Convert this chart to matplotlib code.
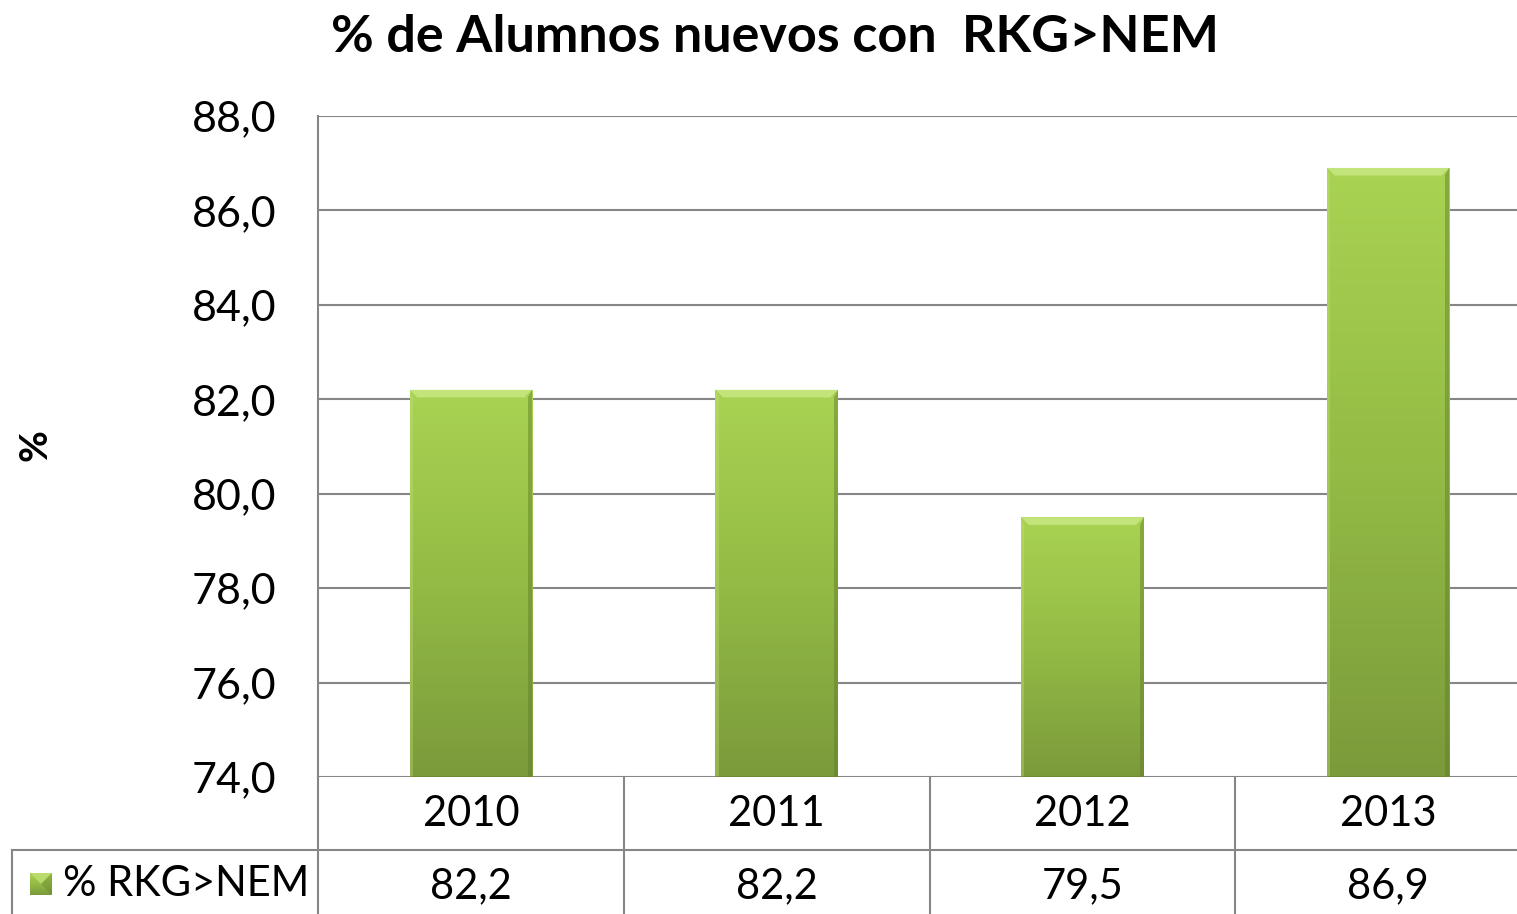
import matplotlib
matplotlib.use("Agg")
import matplotlib.pyplot as plt
import numpy as np
from matplotlib.colors import LinearSegmentedColormap
from matplotlib.patches import Polygon
import matplotlib.transforms as mtransforms

categories = ["2010", "2011", "2012", "2013"]
values = [82.2, 82.2, 79.5, 86.9]
series_name = "% RKG>NEM"
title = "% de Alumnos nuevos con  RKG>NEM"
ylabel = "%"
yticks = [74, 76, 78, 80, 82, 84, 86, 88]

plt.rcParams['font.family'] = ['Lato', 'DejaVu Sans']

W, H = 1517, 914
fig = plt.figure(figsize=(W / 100, H / 100), dpi=100)
ax_left, ax_right, ax_top, ax_bot = 318, 1541, 116, 777
ax = fig.add_axes([ax_left / W, 1 - ax_bot / H, (ax_right - ax_left) / W, (ax_bot - ax_top) / H])
ax.set_xlim(-0.5, len(categories) - 0.5)
ax.set_ylim(74, 88)
ax.set_yticks(yticks)
ax.set_yticklabels([f"{v:.1f}".replace(".", ",") for v in yticks], fontsize=31)
ax.tick_params(axis='y', length=0, pad=30)
ax.set_xticks([])
grid_c = "#868686"
for s in ["top", "right", "bottom"]:
    ax.spines[s].set_visible(False)
ax.spines["left"].set_color(grid_c)
ax.spines["left"].set_linewidth(1.5)
ax.yaxis.grid(True, color=grid_c, linewidth=1.5)
ax.set_axisbelow(True)

cmap = LinearSegmentedColormap.from_list("g", ["#7b9a3b", "#93bb45", "#a9d352"])
grad = np.linspace(0, 1, 256).reshape(-1, 1)
bw = 0.4
x = np.arange(len(categories))
bars = ax.bar(x, [v - 74 for v in values], bottom=74, width=bw, color="none", edgecolor="none", zorder=3)
for b, v in zip(bars, values):
    x0, x1 = b.get_x(), b.get_x() + b.get_width()
    im = ax.imshow(grad, extent=[x0, x1, 74, v], origin="lower", cmap=cmap,
                   aspect="auto", zorder=3, interpolation="bicubic")
    im.set_clip_path(b)
    dx = 0.025
    dy = 0.16
    ax.add_patch(Polygon([[x0, v], [x1, v], [x1 - dx, v - dy], [x0 + dx, v - dy]],
                         closed=True, facecolor="#c9e783", edgecolor="none", alpha=0.85, zorder=4))
    ax.add_patch(Polygon([[x1, v], [x1, 74], [x1 - dx * 0.5, 74], [x1 - dx * 0.5, v - dy]],
                         closed=True, facecolor="#5f7a2a", edgecolor="none", alpha=0.45, zorder=4))
    ax.add_patch(Polygon([[x0, v], [x0, 74], [x0 + dx * 0.4, 74], [x0 + dx * 0.4, v - dy]],
                         closed=True, facecolor="#c4e27a", edgecolor="none", alpha=0.35, zorder=4))
    ax.plot([x0, x1], [74, 74], color="#6d8a33", lw=2, zorder=5, solid_capstyle="butt")

ax.set_ylim(74, 88)
ax.set_xlim(-0.5, len(categories) - 0.5)

# Title and y label
fig.text(775 / W, 1 - 38 / H, title, fontsize=37.5, fontweight="bold", ha="center", va="center")
fig.text(35 / W, 1 - 445 / H, ylabel, fontsize=28, fontweight="bold", rotation=90, ha="center", va="center")

# Data table
row_h = 73 / (ax_bot - ax_top)
blend = mtransforms.blended_transform_factory(ax.transData, ax.transAxes)
lkw = dict(color=grid_c, lw=1.5, clip_on=False, transform=blend)
ax.plot([-0.5, len(categories) - 0.5], [-row_h, -row_h], **lkw)
fig.add_artist(plt.Line2D([12 / W, ax_left / W], [1 - 850 / H, 1 - 850 / H], color=grid_c, lw=1.5))
fig.add_artist(plt.Line2D([12 / W, 12 / W], [1 - 850 / H, 0], color=grid_c, lw=1.5))
for i in range(len(categories)):
    ax.plot([i - 0.5, i - 0.5], [0, -2 * row_h], **lkw)
for i, (c, v) in enumerate(zip(categories, values)):
    ax.text(i, -0.5 * row_h, c, transform=blend, ha="center", va="center", fontsize=30)
    ax.text(i, -1.5 * row_h, f"{v:.1f}".replace(".", ","), transform=blend, ha="center", va="center", fontsize=30)

# legend key + series name
kax = fig.add_axes([30 / W, 1 - 895 / H, 22 / W, 22 / H])
kax.imshow(grad, extent=[0, 1, 0, 1], origin="lower", cmap=cmap, aspect="auto")
kax.add_patch(Polygon([[0, 1], [1, 1], [0.5, 0.5]], facecolor="#c4e27a", alpha=0.7, edgecolor="none"))
kax.add_patch(Polygon([[1, 1], [1, 0], [0.5, 0.5]], facecolor="#5f7a2a", alpha=0.35, edgecolor="none"))
kax.set_xlim(0, 1); kax.set_ylim(0, 1)
kax.axis("off")
fig.text(186 / W, 1 - 884 / H, series_name, fontsize=30, ha="center", va="center")

fig.savefig("out.png", dpi=100)
